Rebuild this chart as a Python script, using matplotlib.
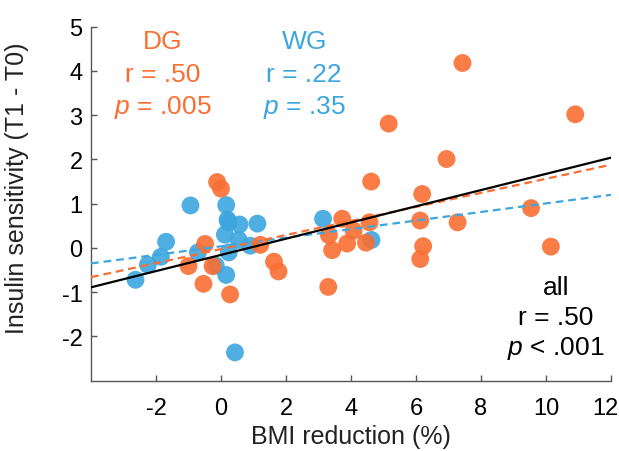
import numpy as np
import matplotlib
matplotlib.use("Agg")
import matplotlib.pyplot as plt
import matplotlib.transforms as mtransforms

plt.rcParams['font.family'] = ['Liberation Sans', 'DejaVu Sans']
plt.rcParams['mathtext.fontset'] = 'custom'
plt.rcParams['mathtext.it'] = 'Liberation Sans:italic'
plt.rcParams['mathtext.rm'] = 'Liberation Sans'
plt.rcParams['axes.unicode_minus'] = False

# DG group (diet)
dg_x = [-0.12, 0.0, -0.49, -1.0, -0.26, -0.54, 0.28, 1.21, 1.63, 1.77,
        3.30, 3.32, 3.42, 3.73, 3.88, 4.08, 4.62, 4.57, 4.46, 5.16,
        6.19, 6.13, 6.22, 6.13, 6.94, 7.43, 7.28, 9.54, 10.15, 10.9]
dg_y = [1.49, 1.34, 0.09, -0.41, -0.41, -0.81, -1.05, 0.07, -0.31, -0.53,
        -0.88, 0.29, -0.05, 0.66, 0.10, 0.39, 1.50, 0.58, 0.12, 2.81,
        1.22, 0.62, 0.04, -0.25, 2.01, 4.18, 0.58, 0.90, 0.03, 3.02]

# WG group
wg_x = [-0.94, 0.16, 0.20, 0.23, 0.57, 1.12, 0.12, 0.55, 0.90, 0.24,
        -0.71, -1.69, -1.85, -2.25, -2.63, -0.16, 0.16, 0.43, 3.14, 4.63]
wg_y = [0.96, 0.97, 0.64, 0.58, 0.53, 0.55, 0.30, 0.18, 0.05, -0.10,
        -0.10, 0.14, -0.20, -0.38, -0.72, -0.40, -0.61, -2.36, 0.66, 0.18]

# regression lines as shown in the figure (intercept, slope)
fit_all = (-0.157, 0.1831)
fit_dg = (-0.025, 0.1588)
fit_wg = (0.0375, 0.0969)

xticks = [-2, 0, 2, 4, 6, 8, 10, 12]
yticks = [-2, -1, 0, 1, 2, 3, 4, 5]

orange = '#FA6E32'
blue = '#3CA6DF'

fig = plt.figure(figsize=(6.19, 4.52), dpi=100)
ax = fig.add_axes([91 / 619, 1 - 381.7 / 452, (611 - 91) / 619, (381.7 - 27.7) / 452])

ax.scatter(wg_x, wg_y, s=165, color=blue, alpha=0.9, edgecolors='none', zorder=2)
ax.scatter(dg_x, dg_y, s=165, color=orange, alpha=0.9, edgecolors='none', zorder=2)

xx = np.array([-4, 12])
ax.plot(xx, fit_wg[0] + fit_wg[1] * xx, color=blue, lw=1.6, dashes=(3.5, 2.2), zorder=3)
ax.plot(xx, fit_dg[0] + fit_dg[1] * xx, color=orange, lw=1.6, dashes=(3.5, 2.2), zorder=3)
ax.plot(xx, fit_all[0] + fit_all[1] * xx, color='black', lw=1.6, zorder=4)

ax.set_xlim(-4, 12)
ax.set_ylim(-3, 5)
ax.set_xticks(xticks)
ax.set_yticks(yticks)
ax.tick_params(direction='in', length=4, width=1, color='#555555', labelsize=17)
ax.tick_params(axis='x', pad=12)
ax.tick_params(axis='y', pad=6)
for side in ['top', 'right']:
    ax.spines[side].set_visible(False)
for side in ['left', 'bottom']:
    ax.spines[side].set_color('#555555')
    ax.spines[side].set_linewidth(1)

# last x tick label sits a bit left, as in the original
lab = ax.get_xticklabels()[-1]
lab.set_transform(lab.get_transform() + mtransforms.ScaledTranslation(-6 / 100, 0, fig.dpi_scale_trans))

ax.set_xlabel('BMI reduction (%)', fontsize=18, color='#222222', labelpad=3)
ax.set_ylabel('Insulin sensitivity (T1 - T0)', fontsize=18, color='#222222')
ax.yaxis.set_label_coords(-0.119, 0.547)

fs = 19
ax.text(-1.8, 4.68, 'DG', color=orange, fontsize=fs, ha='center', va='center')
ax.text(-1.8, 3.94, 'r = .50', color=orange, fontsize=fs, ha='center', va='center')
ax.text(-1.8, 3.19, '$p$ = .005', color=orange, fontsize=fs, ha='center', va='center')
ax.text(2.56, 4.68, 'WG', color=blue, fontsize=fs, ha='center', va='center')
ax.text(2.56, 3.94, 'r = .22', color=blue, fontsize=fs, ha='center', va='center')
ax.text(2.56, 3.19, '$p$ = .35', color=blue, fontsize=fs, ha='center', va='center')
ax.text(10.3, -0.88, 'all', color='black', fontsize=fs, ha='center', va='center')
ax.text(10.3, -1.56, 'r = .50', color='black', fontsize=fs, ha='center', va='center')
ax.text(10.3, -2.24, '$p$ < .001', color='black', fontsize=fs, ha='center', va='center')

fig.savefig('out.png', dpi=100)
